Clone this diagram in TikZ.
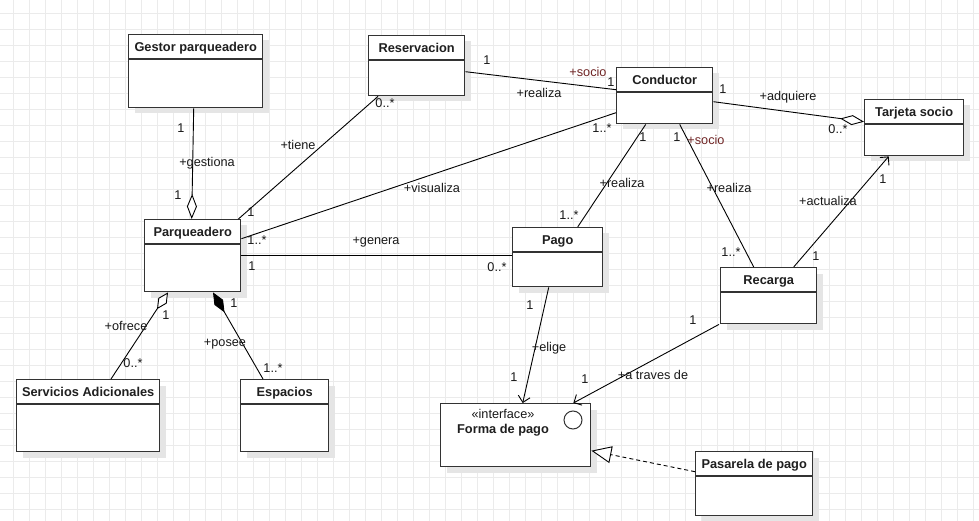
\documentclass[tikz,border=0pt]{standalone}
\usepackage{fontspec}
\setmainfont{Liberation Sans}
\usetikzlibrary{arrows.meta,calc}

\definecolor{gridc}{RGB}{235,235,235}
\definecolor{boxc}{RGB}{51,51,51}
\definecolor{shadc}{RGB}{229,229,229}
\definecolor{rolec}{RGB}{112,38,38}

\tikzset{
  gridline/.style={draw=gridc, line width=1pt},
  cls/.style={rectangle, draw=boxc, line width=1.4pt, fill=white, inner sep=0pt},
  shadowbox/.style={fill=shadc},
  divider/.style={draw=boxc, line width=1.4pt},
  ttl/.style={font=\bfseries\fontsize{12.8}{15}\selectfont, text=black!88, inner sep=0pt},
  lbl/.style={font=\fontsize{12.7}{15}\selectfont, text=black!90, inner sep=0pt},
  role/.style={lbl, text=rolec},
  assoc/.style={draw=black, line width=0.9pt},
  real/.style={draw=black, line width=0.9pt, dash pattern=on 4pt off 3pt},
  aggrlong/.tip={Diamond[open, fill=white, length=25pt, width=10pt]},
  aggrmid/.tip={Diamond[open, fill=white, length=24pt, width=10pt]},
  aggrshort/.tip={Diamond[open, fill=white, length=20pt, width=10pt]},
  comptip/.tip={Diamond[fill=black, length=23pt, width=10pt]},
  navtip/.tip={Straight Barb[length=6pt, width=12pt]},
  realtip/.tip={Triangle[open, fill=white, length=20pt, width=17pt]},
}

% class box: name, left, top, width, height, title
\newcommand\umlbox[6]{%
  \fill[shadowbox] (#2+6.5,#3+6.5) rectangle ++(#4,#5);
  \node[cls, anchor=north west, minimum width=#4pt, minimum height=#5pt] (#1) at (#2,#3) {};
  \node[ttl, anchor=base] (#1-t) at ([yshift=-17.2pt]#1.north) {#6};
  \draw[divider] ([yshift=-25pt]#1.north west) -- ([yshift=-25pt]#1.north east);
}
% association label: name, x, visual centre y, text
\newcommand\lab[4]{\node[lbl, anchor=base] (#1) at (#2,#3+4.5) {#4};}
\newcommand\rolelab[4]{\node[role, anchor=base] (#1) at (#2,#3+4.5) {#4};}

\begin{document}
\begin{tikzpicture}[x=1pt,y=-1pt]
\useasboundingbox (0,0) rectangle (979,521);
\fill[white] (0,0) rectangle (979,521);

% background grid
\foreach \g in {0,...,60} \draw[gridline] ({13.5+16*\g},0) -- ({13.5+16*\g},521);
\foreach \g in {0,...,31} \draw[gridline] (0,{13.5+16*\g}) -- (979,{13.5+16*\g});

% classes
\umlbox{gestor}{128}{34}{134}{73}{Gestor parqueadero}
\umlbox{reserv}{368}{35}{96}{60}{Reservacion}
\umlbox{cond}{616}{67}{96}{56}{Conductor}
\umlbox{tarjeta}{864}{99}{99}{56}{Tarjeta socio}
\umlbox{parq}{144}{219}{96}{72}{Parqueadero}
\umlbox{pago}{512}{227}{90}{59}{Pago}
\umlbox{serv}{16}{379}{143}{72}{Servicios Adicionales}
\umlbox{esp}{240}{379}{88}{72}{Espacios}
\umlbox{recarga}{720}{267}{96}{56}{Recarga}
\umlbox{pasarela}{695}{451}{117}{64}{Pasarela de pago}

% interface
\fill[shadowbox] (446.5,409.5) rectangle ++(150,63);
\node[cls, anchor=north west, minimum width=150pt, minimum height=63pt] (forma) at (440,403) {};
\node[lbl, anchor=base] (forma-s) at (503,418) {«interface»};
\node[ttl, anchor=base] (forma-t) at (503,433.3) {Forma de pago};
\node[circle, draw=boxc, line width=1pt, minimum size=18pt, inner sep=0pt] (forma-c) at (573,420) {};

% associations
\draw[assoc, -aggrlong] ([xshift=-2pt]gestor.south) -- ([xshift=-1pt]parq.north);
\draw[assoc] ([xshift=10pt]reserv.south west) -- ([xshift=-3pt]parq.north east);
\draw[assoc] ([yshift=-6pt]reserv.east) -- ([yshift=6pt]cond.west);
\draw[assoc] ([yshift=-17pt]cond.west) -- ([yshift=17pt]parq.east);
\draw[assoc] (parq.east) -- (parq.east -| pago.west);
\draw[assoc] ([xshift=-19pt]cond.south) -- ([xshift=20pt]pago.north);
\draw[assoc] ([xshift=15pt]cond.south) -- ([xshift=-15pt]recarga.north);
\draw[assoc, -aggrmid] ([yshift=-6pt]cond.east) -- ([yshift=6pt]tarjeta.west);
\draw[assoc, -navtip] ([xshift=25pt]recarga.north) -- ([xshift=-25.5pt]tarjeta.south);
\draw[assoc, -navtip] ([xshift=-9pt]pago.south) -- ([xshift=7pt]forma.north);
\draw[assoc, -navtip] ([xshift=-1pt]recarga.south west) -- ([xshift=-18pt]forma.north east);
\draw[real, -realtip] ([yshift=12pt]pasarela.west) -- ([yshift=-15.5pt]forma.east);
\draw[assoc, aggrshort-] ([xshift=24pt]parq.south west) -- ([xshift=95pt]serv.north west);
\draw[assoc, comptip-] ([xshift=69pt]parq.south west) -- ([xshift=23pt]esp.north west);

% labels
\lab{g1}{181}{128}{1}
\lab{g2}{207}{162}{+gestiona}
\lab{g3}{178}{195}{1}
\lab{t1}{385}{103}{0..*}
\lab{t2}{298}{145}{+tiene}
\lab{t3}{251}{212}{1}
\lab{r1}{487}{60}{1}
\rolelab{r2}{588}{72}{+socio}
\lab{r3}{611}{82}{1}
\lab{r4}{539}{93}{+realiza}
\lab{v1}{602}{128}{1..*}
\lab{v2}{432}{188}{+visualiza}
\lab{v3}{257}{240}{1..*}
\lab{ge1}{376}{240}{+genera}
\lab{ge2}{252}{266}{1}
\lab{ge3}{497}{267}{0..*}
\lab{p1}{643}{137}{1}
\lab{p2}{622}{183}{+realiza}
\lab{p3}{569}{215}{1..*}
\lab{c1}{677}{137}{1}
\rolelab{c2}{706}{140}{+socio}
\lab{c3}{729}{188}{+realiza}
\lab{c4}{731}{252}{1..*}
\lab{a1}{723}{89}{1}
\lab{a2}{788}{96}{+adquiere}
\lab{a3}{838}{129}{0..*}
\lab{u1}{883}{179}{1}
\lab{u2}{828}{201}{+actualiza}
\lab{u3}{816}{256}{1}
\lab{e1}{530}{305}{1}
\lab{e2}{549}{347}{+elige}
\lab{e3}{514}{377}{1}
\lab{w1}{693}{320}{1}
\lab{w2}{653}{375}{+a traves de}
\lab{w3}{585}{379}{1}
\lab{o1}{166}{315}{1}
\lab{o2}{126}{326}{+ofrece}
\lab{o3}{133}{363}{0..*}
\lab{s1}{234}{303}{1}
\lab{s2}{225}{342}{+posee}
\lab{s3}{273}{368}{1..*}
\end{tikzpicture}
\end{document}
